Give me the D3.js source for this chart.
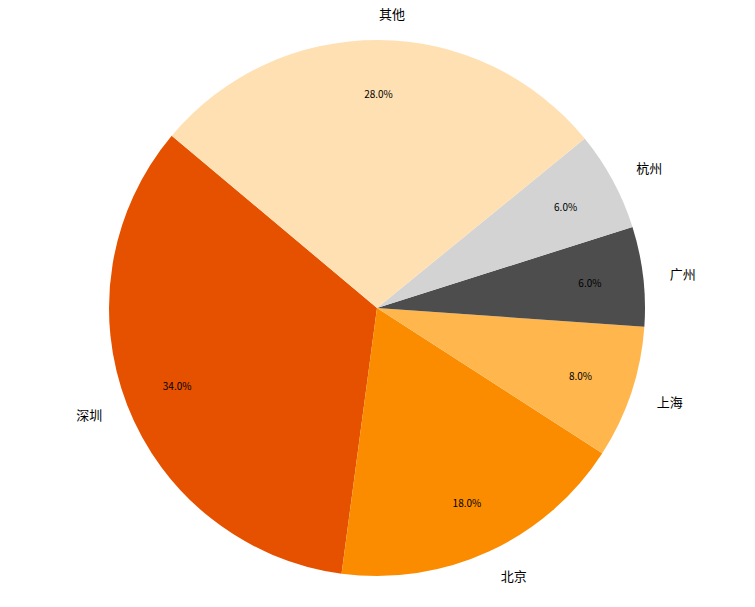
<!DOCTYPE html>
<meta charset="utf-8">
<style>
	body {
		margin: 0;
		padding: 0;
		background: #ffffff;
		font-family: 'Noto Sans CJK SC', sans-serif;
	}

	.label {
		font-size: 13px;
		fill: #000000;
	}

	.pct {
		font-size: 10px;
		fill: #000000;
	}
</style>
<body>
	<svg class="chart"></svg>
</body>
<script src="https://d3js.org/d3.v7.min.js"></script>
<script>

var cities = ["深圳", "北京", "上海", "广州", "杭州", "其他"];
var shares = [34, 18, 8, 6, 6, 28];
var colors = ["#E65100", "#FB8C00", "#FFB74D", "#4D4D4D", "#D3D3D3", "#FFE0B2"];

var width = 755,
    height = 607;

var cx = 377,
    cy = 308,
    radius = 268;

// matplotlib startangle=140, counter-clockwise
var start = (90 - 140) * Math.PI / 180;

var svg = d3.select(".chart")
    .attr("width", width)
    .attr("height", height)
  .append("g")
    .attr("transform", "translate(" + cx + "," + cy + ")");

var data = cities.map(function(c, i) { return {city: c, value: shares[i], color: colors[i]}; });

var pie = d3.pie()
    .sort(null)
    .value(function(d) { return d.value; })
    .startAngle(start)
    .endAngle(start - 2 * Math.PI);

var arc = d3.arc()
    .innerRadius(0)
    .outerRadius(radius);

var arcs = pie(data);

svg.selectAll(".slice")
    .data(arcs)
  .enter().append("path")
    .attr("class", "slice")
    .attr("d", arc)
    .attr("fill", function(d) { return d.data.color; });

function mid(d) { return (d.startAngle + d.endAngle) / 2; }

svg.selectAll(".label")
    .data(arcs)
  .enter().append("text")
    .attr("class", "label")
    .attr("x", function(d) { return radius * 1.1 * Math.sin(mid(d)); })
    .attr("y", function(d) { return -radius * 1.1 * Math.cos(mid(d)); })
    .attr("dominant-baseline", "central")
    .attr("text-anchor", function(d) { return Math.sin(mid(d)) > 0 ? "start" : "end"; })
    .text(function(d) { return d.data.city; });

var total = d3.sum(shares);

svg.selectAll(".pct")
    .data(arcs)
  .enter().append("text")
    .attr("class", "pct")
    .attr("x", function(d) { return radius * 0.8 * Math.sin(mid(d)); })
    .attr("y", function(d) { return -radius * 0.8 * Math.cos(mid(d)); })
    .attr("dominant-baseline", "central")
    .attr("text-anchor", "middle")
    .text(function(d) { return (d.data.value / total * 100).toFixed(1) + "%"; });

</script>
